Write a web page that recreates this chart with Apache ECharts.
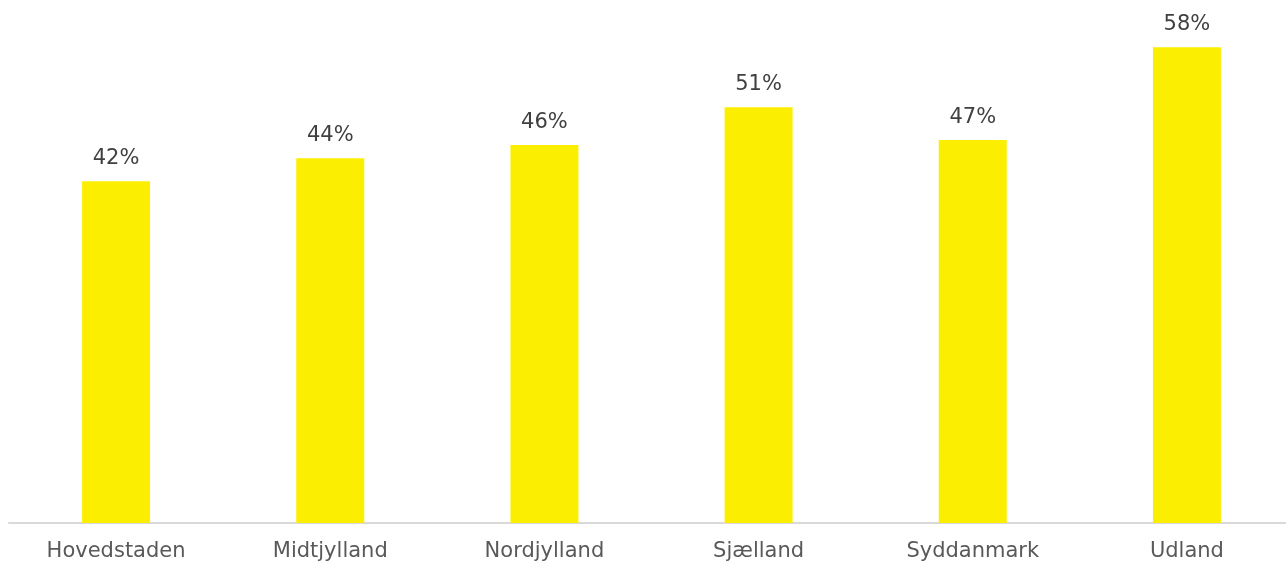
<!DOCTYPE html>
<html>
<head>
<meta charset="utf-8">
<script src="https://cdn.jsdelivr.net/npm/echarts@6/dist/echarts.min.js"></script>
<style>
  html, body { margin: 0; padding: 0; background: #fff; }
  #chart { width: 1286px; height: 564px; }
</style>
</head>
<body>
<div id="chart"></div>
<script>
// regioner og andel i procent (aflæst fra søjlehøjder)
var regions = ['Hovedstaden', 'Midtjylland', 'Nordjylland', 'Sjælland', 'Syddanmark', 'Udland'];
var shares = [41.6, 44.4, 46.0, 50.6, 46.6, 57.9];

var myChart = echarts.init(document.getElementById('chart'));
var option = {
  backgroundColor: '#fff',
  animation: false,
  grid: {
    left: 9,
    width: 1285,
    top: 30,
    bottom: 41,
    outerBoundsMode: 'none'
  },
  xAxis: {
    type: 'category',
    data: regions,
    axisTick: { show: false },
    axisLine: { lineStyle: { color: '#d9d9d9', width: 2 } },
    axisLabel: {
      color: '#595959',
      fontFamily: 'DejaVu Sans',
      fontSize: 21,
      margin: 18
    }
  },
  yAxis: {
    type: 'value',
    min: 0,
    max: 60,
    show: false,
    splitLine: { show: false }
  },
  series: [
    {
      type: 'bar',
      data: shares,
      barWidth: 68,
      itemStyle: { color: '#fcee00' },
      label: {
        show: true,
        position: 'top',
        distance: 12,
        color: '#404040',
        fontFamily: 'DejaVu Sans',
        fontSize: 21,
        formatter: function (p) {
          return Math.round(p.value) + '%';
        }
      }
    }
  ]
};
myChart.setOption(option);
</script>
</body>
</html>
